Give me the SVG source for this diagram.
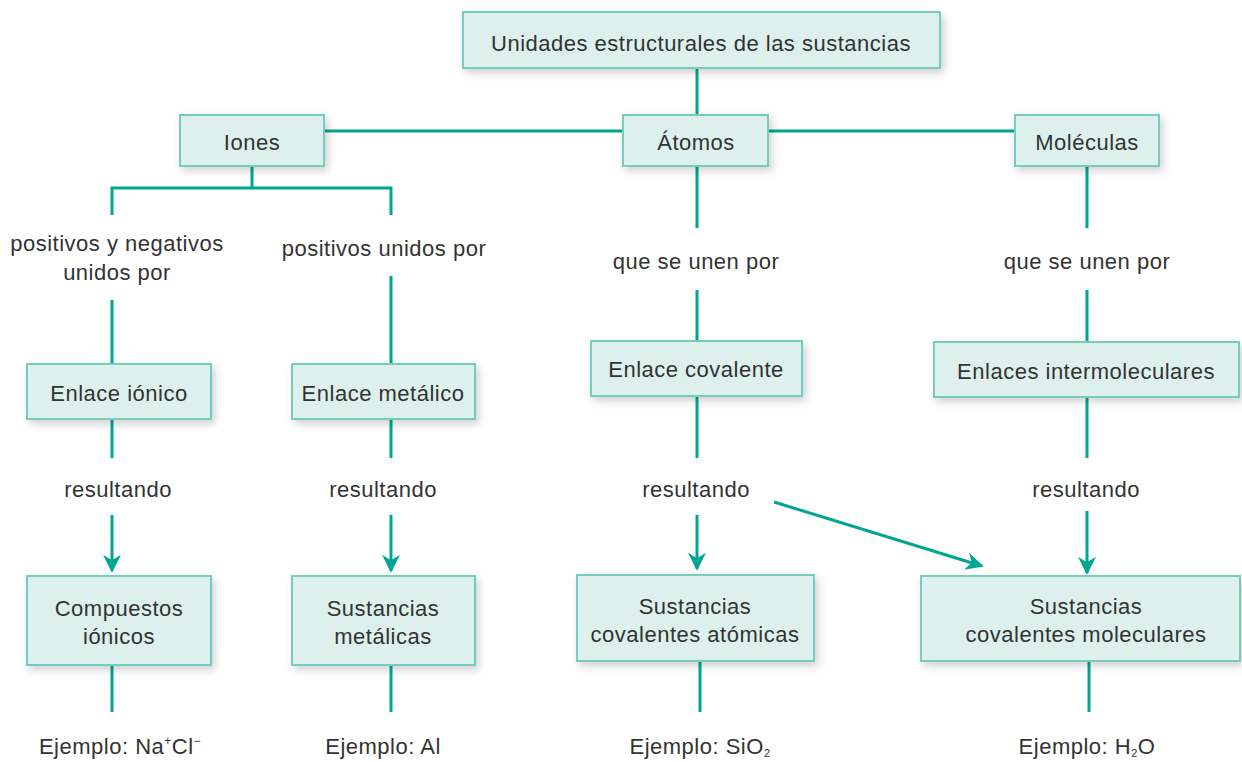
<svg xmlns="http://www.w3.org/2000/svg" width="1242" height="762" viewBox="0 0 1242 762">
<style>
.box{fill:#ddf0eb;stroke:#74cdbd;stroke-width:2;filter:url(#sh)}
.t{font-family:"Liberation Sans",Arial,sans-serif;font-size:22px;letter-spacing:0.5px;fill:#333;text-anchor:middle}
.ln{stroke:#00a693;stroke-width:3;fill:none}
.ar{stroke:#00a693;stroke-width:3;fill:none;marker-end:url(#ah)}
</style>
<defs>
<filter id="sh" x="-20%" y="-30%" width="140%" height="170%">
<feDropShadow dx="3" dy="4" stdDeviation="4" flood-color="#000" flood-opacity="0.18"/>
</filter>
<marker id="ah" viewBox="0 0 10 10" refX="9" refY="5" markerWidth="6" markerHeight="6" markerUnits="strokeWidth" orient="auto">
<path d="M0,0 L10,5 L0,10 L3,5 Z" fill="#00a693"/>
</marker>
</defs>
<rect width="1242" height="762" fill="#fff"/>
<g id="connectors">
<line class="ln" x1="697" y1="68" x2="697" y2="131"/>
<line class="ln" x1="324" y1="131" x2="1015" y2="131"/>
<polyline class="ln" points="112,215 112,188 391,188 391,215"/>
<line class="ln" x1="252" y1="166" x2="252" y2="188"/>
<line class="ln" x1="112" y1="300" x2="112" y2="364"/>
<line class="ln" x1="391" y1="276" x2="391" y2="364"/>
<line class="ln" x1="112" y1="419" x2="112" y2="458"/>
<line class="ln" x1="391" y1="419" x2="391" y2="458"/>
<line class="ar" x1="112" y1="515" x2="112" y2="571"/>
<line class="ar" x1="391" y1="515" x2="391" y2="571"/>
<line class="ln" x1="112" y1="665" x2="112" y2="712"/>
<line class="ln" x1="391" y1="665" x2="391" y2="712"/>
<line class="ln" x1="697" y1="166" x2="697" y2="228"/>
<line class="ln" x1="697" y1="290" x2="697" y2="341"/>
<line class="ln" x1="697" y1="396" x2="697" y2="458"/>
<line class="ar" x1="697" y1="515" x2="697" y2="569"/>
<line class="ar" x1="774" y1="502" x2="982" y2="566"/>
<line class="ln" x1="700" y1="661" x2="700" y2="712"/>
<line class="ln" x1="1087" y1="166" x2="1087" y2="228"/>
<line class="ln" x1="1087" y1="290" x2="1087" y2="342"/>
<line class="ln" x1="1087" y1="397" x2="1087" y2="458"/>
<line class="ar" x1="1087" y1="511" x2="1087" y2="573"/>
<line class="ln" x1="1089" y1="661" x2="1089" y2="712"/>
</g>
<g id="n-top"><rect class="box" x="463" y="12" width="477" height="56"/><text class="t" x="701" y="51">Unidades estructurales de las sustancias</text></g>
<g id="n-iones"><rect class="box" x="180" y="115" width="144" height="51"/><text class="t" x="252" y="150">Iones</text></g>
<g id="n-atomos"><rect class="box" x="623" y="115" width="145" height="51"/><text class="t" x="696" y="150">Átomos</text></g>
<g id="n-moleculas"><rect class="box" x="1015" y="115" width="144" height="51"/><text class="t" x="1087" y="150">Moléculas</text></g>
<g id="l-posneg"><text class="t" x="117" y="251">positivos y negativos</text><text class="t" x="117" y="280">unidos por</text></g>
<g id="l-pos"><text class="t" x="384" y="256">positivos unidos por</text></g>
<g id="l-que1"><text class="t" x="696" y="269">que se unen por</text></g>
<g id="l-que2"><text class="t" x="1087" y="269">que se unen por</text></g>
<g id="n-ionico"><rect class="box" x="27" y="364" width="184" height="55"/><text class="t" x="119" y="401">Enlace iónico</text></g>
<g id="n-metalico"><rect class="box" x="292" y="364" width="183" height="55"/><text class="t" x="383" y="401">Enlace metálico</text></g>
<g id="n-covalente"><rect class="box" x="591" y="341" width="211" height="55"/><text class="t" x="696" y="377">Enlace covalente</text></g>
<g id="n-intermol"><rect class="box" x="934" y="342" width="305" height="55"/><text class="t" x="1086" y="379">Enlaces intermoleculares</text></g>
<g id="l-res1"><text class="t" x="118" y="497">resultando</text></g>
<g id="l-res2"><text class="t" x="383" y="497">resultando</text></g>
<g id="l-res3"><text class="t" x="696" y="497">resultando</text></g>
<g id="l-res4"><text class="t" x="1086" y="497">resultando</text></g>
<g id="n-compuestos"><rect class="box" x="27" y="576" width="184" height="89"/><text class="t" x="119" y="616">Compuestos</text><text class="t" x="119" y="644">iónicos</text></g>
<g id="n-metalicas"><rect class="box" x="292" y="576" width="183" height="89"/><text class="t" x="383" y="616">Sustancias</text><text class="t" x="383" y="644">metálicas</text></g>
<g id="n-cov-atom"><rect class="box" x="577" y="575" width="237" height="86"/><text class="t" x="695" y="614">Sustancias</text><text class="t" x="695" y="642">covalentes atómicas</text></g>
<g id="n-cov-mol"><rect class="box" x="921" y="576" width="319" height="85"/><text class="t" x="1086" y="614">Sustancias</text><text class="t" x="1086" y="642">covalentes moleculares</text></g>
<g id="e1"><text class="t" x="120" y="754">Ejemplo: Na<tspan font-size="12" dy="-9">+</tspan><tspan dy="9">Cl</tspan><tspan font-size="12" dy="-9">−</tspan></text></g>
<g id="e2"><text class="t" x="383" y="754">Ejemplo: Al</text></g>
<g id="e3"><text class="t" x="700" y="754">Ejemplo: SiO<tspan font-size="11" dy="3">2</tspan></text></g>
<g id="e4"><text class="t" x="1087" y="754">Ejemplo: H<tspan font-size="11" dy="3">2</tspan><tspan dy="-3">O</tspan></text></g>
</svg>
